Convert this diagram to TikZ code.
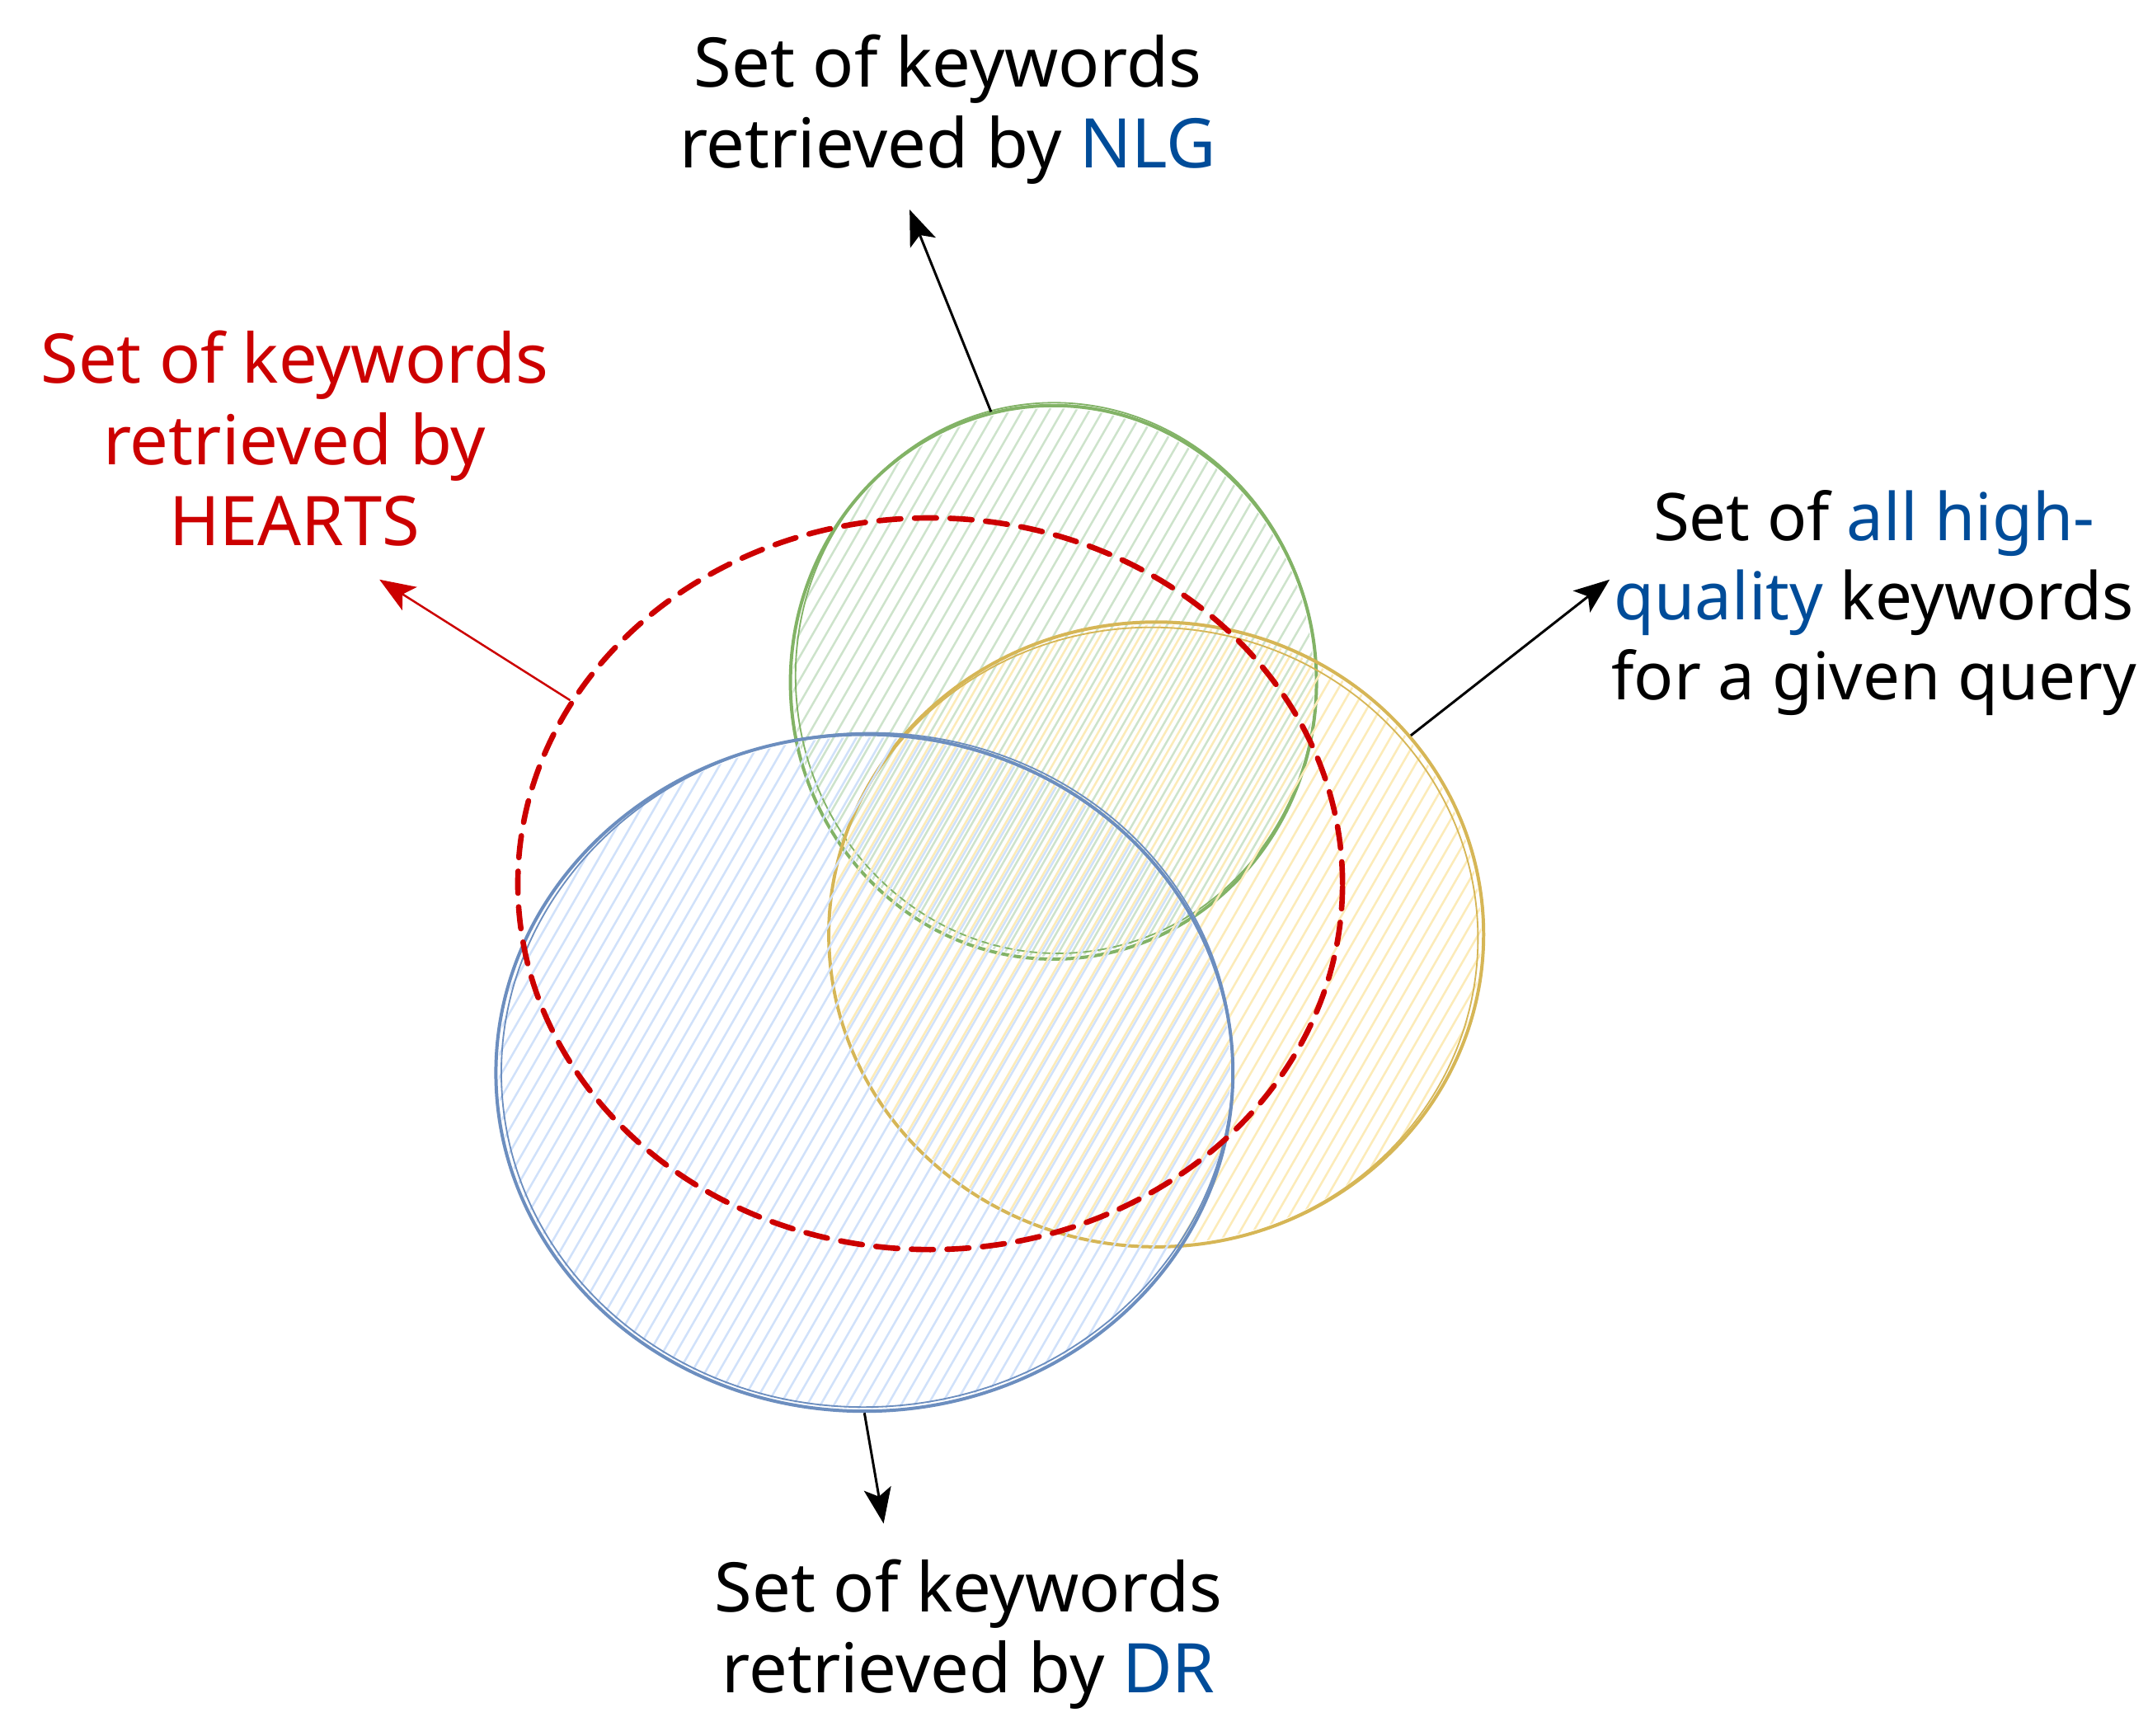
\documentclass[tikz,border=0pt]{standalone}
\usepackage{fontspec}
\setmainfont{Noto Sans}
\usetikzlibrary{shapes.geometric,arrows.meta}
\definecolor{gstroke}{HTML}{82B366}
\definecolor{gfill}{HTML}{CDE3CB}
\definecolor{ystroke}{HTML}{D6B656}
\definecolor{yfill}{HTML}{FCEBB8}
\definecolor{bstroke}{HTML}{6C8EBF}
\definecolor{bfill}{HTML}{D0E1FA}
\definecolor{hred}{HTML}{CC0000}
\definecolor{tblue}{HTML}{004C99}
% hachure fill: centre x, centre y, x radius, y radius, colour
\newcommand\hachurefill[5]{%
  \begin{scope}
    \clip (#1,#2) ellipse [x radius=#3, y radius=#4];
    \foreach \k in {-46,...,46}
      \draw[#5, line width=1.5pt] ({#1+\k*9.8-330},{#2+572}) -- ++(660,-1144);
  \end{scope}}
\begin{document}
\begin{tikzpicture}[x=1pt,y=-1pt,
  setc/.style={ellipse, inner sep=0pt, line width=2.4pt},
  sketch/.style={line width=1.1pt},
  lbl/.style={align=center, font=\fontsize{50}{59}\selectfont, inner sep=0pt},
  arr/.style={-{Stealth[length=26pt,width=20pt,inset=6pt]}, line width=1.8pt}]
\fill[white] (0,0) rectangle (1568,1267);
\useasboundingbox (0,0) rectangle (1568,1267);

% NLG set (green)
\hachurefill{769}{498}{190}{200}{gfill}
\node[setc, draw=gstroke, minimum width=384pt, minimum height=404pt] (nlg) at (769,498) {};
\draw[sketch, gstroke, rotate around={4:(769,498)}] (771,495) ellipse [x radius=190, y radius=201];

% all high-quality set (yellow)
\hachurefill{844}{682}{237}{226}{yfill}
\node[setc, draw=ystroke, minimum width=478pt, minimum height=456pt] (hq) at (844,682) {};
\draw[sketch, ystroke, rotate around={-3:(844,682)}] (842,684) ellipse [x radius=237, y radius=226];

% DR set (blue)
\hachurefill{631}{783}{267}{245}{bfill}
\node[setc, draw=bstroke, minimum width=538pt, minimum height=494pt] (dr) at (631,783) {};
\draw[sketch, bstroke, rotate around={3:(631,783)}] (633,781) ellipse [x radius=267, y radius=246];

% HEARTS set (red dashed)
\node[setc, draw=hred, line width=4pt, line cap=round, dash pattern=on 16pt off 10pt,
      minimum width=602pt, minimum height=534pt] (hearts) at (679,645) {};

% labels
\node[lbl] (tnlg) at (692,80) {Set of keywords\\retrieved by \textcolor{tblue}{NLG}};
\node[lbl, text=hred] (theart) at (215,320) {Set of keywords\\retrieved by\\HEARTS};
\node[lbl, font=\fontsize{48}{58}\selectfont] (thq) at (1368,440) {Set of \textcolor{tblue}{all high-}\\\textcolor{tblue}{quality} keywords\\for a given query};
\node[lbl] (tdr) at (707,1193) {Set of keywords\\retrieved by \textcolor{tblue}{DR}};

% arrow tips
\coordinate (nlgtip) at (664,153);
\coordinate (hearttip) at (277,423);
\coordinate (hqtip) at (1175,423);
\coordinate (drtip) at (645,1112);

% connectors
\draw[arr] (nlg.103) -- (nlgtip);
\draw[arr, hred, line width=1.5pt] (hearts.153) -- (hearttip);
\draw[arr] (hq.38) -- (hqtip);
\draw[arr] (dr.270) -- (drtip);
\end{tikzpicture}
\end{document}
